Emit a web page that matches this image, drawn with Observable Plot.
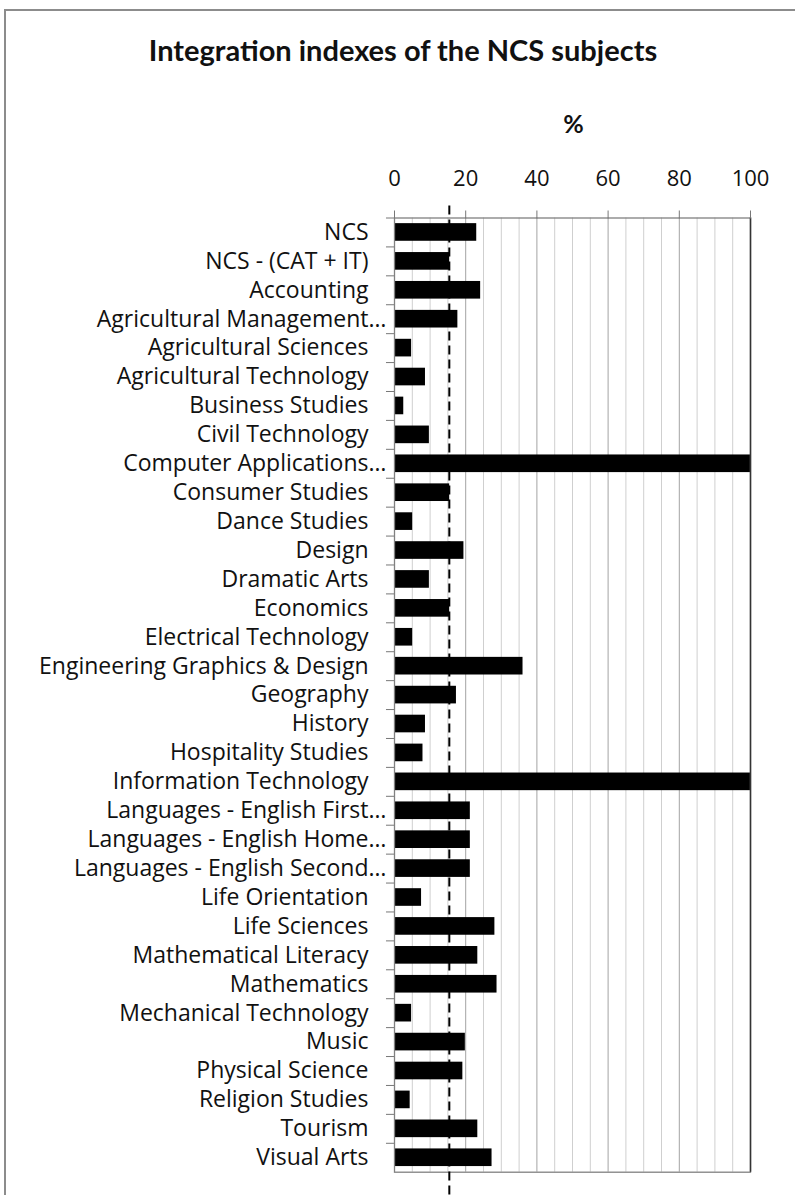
<!DOCTYPE html>
<html><head><meta charset="utf-8">
<script src="https://cdn.jsdelivr.net/npm/d3@7"></script>
<script src="https://cdn.jsdelivr.net/npm/@observablehq/plot@0.6"></script>
<style>
body{margin:0;background:#fff;}
#wrap{position:relative;width:795px;height:1195px;overflow:hidden;font-family:Lato,sans-serif;}
#frame{position:absolute;left:4px;top:9px;width:820px;height:1300px;border:2px solid #8c8c8c;}
#title{position:absolute;top:35px;left:0;width:806px;text-align:center;font-size:29px;line-height:1;font-weight:bold;color:#111;white-space:nowrap;}
#unit{position:absolute;top:111px;left:473.5px;width:200px;text-align:center;font-size:25px;line-height:1;font-weight:bold;color:#111;}
#chart{position:absolute;left:0;top:140px;}
</style></head>
<body><div id="wrap"><div id="frame"></div><div id="title">Integration indexes of the NCS subjects</div><div id="unit">%</div><div id="chart"></div></div>
<script>
const subjects = ["NCS","NCS - (CAT + IT)","Accounting","Agricultural Management…","Agricultural Sciences","Agricultural Technology","Business Studies","Civil Technology","Computer Applications…","Consumer Studies","Dance Studies","Design","Dramatic Arts","Economics","Electrical Technology","Engineering Graphics & Design","Geography","History","Hospitality Studies","Information Technology","Languages - English First…","Languages - English Home…","Languages - English Second…","Life Orientation","Life Sciences","Mathematical Literacy","Mathematics","Mechanical Technology","Music","Physical Science","Religion Studies","Tourism","Visual Arts"];
const values = [23.1,15.5,24.2,17.8,4.8,8.7,2.6,9.8,100,15.5,5.1,19.5,9.8,15.5,5.1,36.1,17.4,8.7,8.0,100,21.3,21.3,21.3,7.6,28.2,23.4,28.8,4.8,19.9,19.2,4.4,23.4,27.4];
const average = [15.4];
const majorTicks = [0,20,40,60,80,100];
const minorGrid = [5,10,15,25,30,35,45,50,55,65,70,75,85,90,95];
const majorGrid = [20,40,60,80];

const data = subjects.map((s,i)=>({subject:s, value:values[i]}));
const truncated = subjects.filter(s => s.endsWith("…"));
const H = 1055, mt = 77.5, mb = 23.3;
const step = (H - mt - mb) / subjects.length;

const plot = Plot.plot({
  width: 795, height: H,
  marginLeft: 394, marginRight: 45, marginTop: mt, marginBottom: mb,
  style: {fontFamily: "'Open Sans', sans-serif", fontSize: "23px", color: "#111", overflow: "visible"},
  x: {domain: [0,100], axis: null},
  y: {domain: subjects, paddingInner: 0.39, paddingOuter: 0.195, round: false, axis: null},
  marks: [
    Plot.ruleX(minorGrid, {stroke: "#cfcfcf", strokeWidth: 1}),
    Plot.ruleX(majorGrid, {stroke: "#a3a3a3", strokeWidth: 1}),
    Plot.barX(data, {x: "value", y: "subject", fill: "#000"}),
    Plot.ruleY(subjects, {y: d => d, x1: -2.25, x2: 0, dy: -step/2, stroke: "#777"}),
    Plot.frame({stroke: "#808080", strokeWidth: 1.3}),
    Plot.ruleX([100], {stroke: "#333", strokeWidth: 1.5}),
    Plot.axisX(majorTicks, {anchor: "top", tickSize: 8, tickPadding: 24.5, stroke: "#777", fontSize: 22, label: null}),
    Plot.axisY({anchor: "left", tickSize: 0, tickPadding: 26, fontSize: 23, label: null, tickFormat: d => d.replace("…", "")}),
    Plot.text(truncated, {y: d => d, x: 0, text: () => "…", textAnchor: "start", dx: -26, fontSize: 23, fill: "#111"}),
    Plot.ruleX(average, {stroke: "#000", strokeWidth: 2, strokeDasharray: "9,5", insetTop: -12, insetBottom: -30})
  ]
});
document.getElementById("chart").appendChild(plot);
</script></body></html>
